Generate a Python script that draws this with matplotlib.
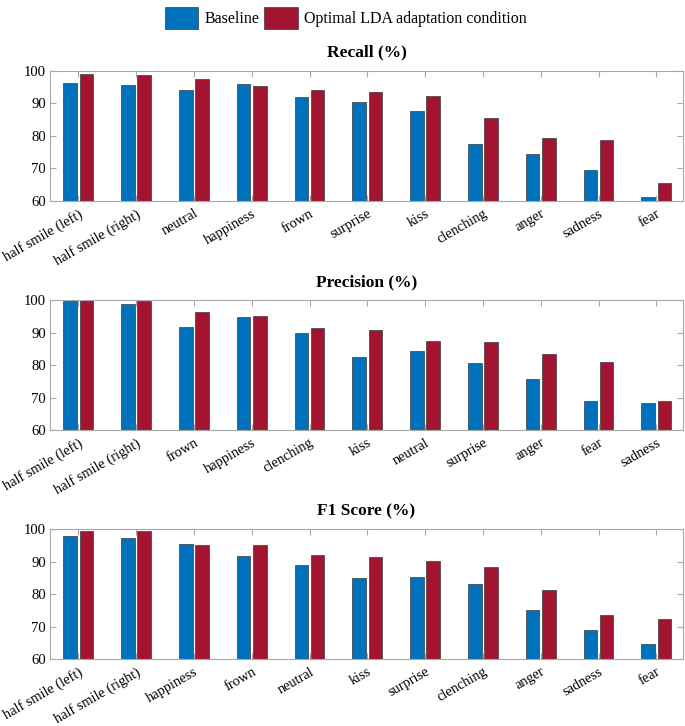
import numpy as np
import matplotlib
matplotlib.use("Agg")
import matplotlib.pyplot as plt
from matplotlib.patches import Patch
from matplotlib.transforms import ScaledTranslation

plt.rcParams['font.family'] = ['Liberation Serif', 'DejaVu Serif']

# Recall (%)
recall_labels = ['half smile (left)', 'half smile (right)', 'neutral', 'happiness',
                 'frown', 'surprise', 'kiss', 'clenching', 'anger', 'sadness', 'fear']
recall_base = [96.3, 95.5, 94.0, 96.0, 91.8, 90.3, 87.5, 77.5, 74.5, 69.5, 61.2]
recall_lda = [99.1, 98.8, 97.3, 95.2, 94.0, 93.5, 92.3, 85.5, 79.3, 78.8, 65.4]

# Precision (%)
precision_labels = ['half smile (left)', 'half smile (right)', 'frown', 'happiness',
                    'clenching', 'kiss', 'neutral', 'surprise', 'anger', 'fear', 'sadness']
precision_base = [99.6, 98.8, 91.8, 94.7, 89.8, 82.5, 84.2, 80.6, 75.6, 68.8, 68.2]
precision_lda = [100.0, 99.8, 96.3, 95.2, 91.3, 90.8, 87.5, 87.1, 83.5, 81.0, 68.9]

# F1 Score (%)
f1_labels = ['half smile (left)', 'half smile (right)', 'happiness', 'frown', 'neutral',
             'kiss', 'surprise', 'clenching', 'anger', 'sadness', 'fear']
f1_base = [98.0, 97.1, 95.4, 91.8, 88.8, 84.9, 85.2, 83.2, 75.1, 68.9, 64.7]
f1_lda = [99.5, 99.3, 95.2, 95.2, 92.1, 91.5, 90.2, 88.3, 81.3, 73.6, 72.3]

BLUE = '#0072BD'
RED = '#A2142F'
EDGE = '#3a3a3a'
AXCOL = '#a8a8a8'

panels = [
    ('Recall (%)', recall_labels, recall_base, recall_lda, 0.7236),
    ('Precision (%)', precision_labels, precision_base, precision_lda, 0.4077),
    ('F1 Score (%)', f1_labels, f1_base, f1_lda, 0.0923),
]

fig = plt.figure(figsize=(6.85, 7.26), dpi=100)
# MATLAB puts the end of rotated labels a few pixels right of the tick
shift = ScaledTranslation(5 / 100, 0, fig.dpi_scale_trans)

width = 0.235
offset = 0.14
for title, labels, base, lda, bottom in panels:
    ax = fig.add_axes([0.073, bottom, 0.924, 0.179])
    x = np.arange(1, len(labels) + 1)
    ax.bar(x - offset, base, width, color=BLUE, edgecolor=EDGE, linewidth=0.5)
    ax.bar(x + offset, lda, width, color=RED, edgecolor=EDGE, linewidth=0.5)
    ax.set_ylim(60, 100)
    ax.set_xlim(0.51, len(labels) + 0.46)
    ax.set_yticks([60, 70, 80, 90, 100])
    ax.set_xticks(x)
    ax.set_xticklabels(labels, rotation=30, ha='right', rotation_mode='anchor', fontsize=10.4)
    for lbl in ax.get_xticklabels():
        lbl.set_transform(lbl.get_transform() + shift)
    ax.tick_params(axis='x', pad=4.5)
    ax.tick_params(axis='y', labelsize=10.6, pad=3)
    ax.tick_params(direction='in', length=4, color=AXCOL, top=True, right=True)
    for s in ax.spines.values():
        s.set_color(AXCOL)
        s.set_linewidth(0.8)
    ax.set_title(title, fontsize=12.5, fontweight='bold', pad=10)

handles = [Patch(facecolor=BLUE, edgecolor=EDGE, linewidth=0.5, label='Baseline'),
           Patch(facecolor=RED, edgecolor=EDGE, linewidth=0.5, label='Optimal LDA adaptation condition')]
fig.legend(handles=handles, loc='upper center', bbox_to_anchor=(0.505, 1.01), ncol=2,
           frameon=False, fontsize=11.5, handlelength=2.1, handleheight=1.7,
           handletextpad=0.4, columnspacing=0.3)

fig.savefig('out.png', dpi=100, facecolor='white')
